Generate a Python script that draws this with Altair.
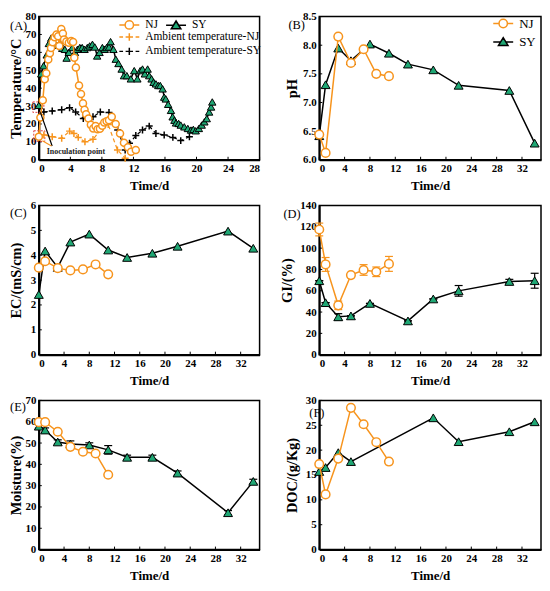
import altair as alt
import pandas as pd

ORANGE = "#F7941D"
GREEN = "#1FA774"
SERIF = "Liberation Serif"

# ---------------- data: panel A (temperature) ----------------
nj_temp_day = [0, 0.2, 0.5, 0.75, 0.95, 1.2, 1.4, 1.55, 1.75, 2.0, 2.25, 2.45, 2.6, 2.85, 3.05, 3.2,
               3.5, 3.8, 4.1, 4.35, 4.5, 4.7, 5.1, 5.35, 5.6, 5.8, 6.0, 6.3, 6.6, 6.9, 7.2, 7.45,
               7.75, 8.05, 8.3, 8.6, 8.9, 9.25, 9.75, 10.3, 10.8, 11.3, 11.7, 12.3]
nj_temp = [12.9, 23.6, 33.2, 45, 48.3, 56, 59.5, 62.5, 65.7, 68.5, 70, 69, 63.6, 73, 70.5, 67.2,
           66, 65.4, 66.3, 65.8, 57, 51.6, 41.5, 36.8, 31.5, 28, 25.4, 23, 19.5, 17.5, 18.8, 17,
           17.3, 19, 20.8, 21.5, 22.1, 24, 20, 14.7, 9.5, 7, 4.5, 5.5]
sy_temp_day = [0, 0.3, 0.6, 1.0, 1.27, 1.57, 1.9, 2.25, 2.67, 2.97, 3.3, 3.52, 3.8, 4.24, 4.58,
               4.9, 5.2, 5.5, 5.8, 6.15, 6.45, 6.8, 7.1, 7.4, 7.7, 8.06, 8.36, 8.6, 8.9, 9.1,
               9.46, 9.76, 10.1, 10.5, 10.8, 11.16, 11.67, 12.1, 12.5, 12.86, 13.15, 13.45, 13.8,
               14.0, 14.3, 14.55, 14.85, 15.15, 15.4, 15.7, 15.9, 16.1, 16.4, 16.76, 16.97, 17.2,
               17.4, 17.73, 18.0, 18.45, 18.9, 19.3, 19.6, 19.9, 20.3, 20.66, 21.0, 21.3, 21.6,
               21.85, 22.0]
sy_temp = [30.4, 48, 52.5, 58.6, 65, 68, 66, 64, 65.4, 62.3, 61.7, 56.8, 60, 62.7, 60,
           61.7, 62.7, 62.7, 61.7, 62.7, 63.6, 64.5, 63, 58, 60, 62.7, 61.7, 62.7, 63, 66,
           61.7, 56.2, 53.8, 50.7, 47, 47, 45.2, 49.8, 45.2, 49.8, 50.7, 48, 50.7,
           47, 45.2, 43.3, 42.4, 41.5, 41.5, 39.6, 35, 34, 31, 27.6, 24, 22.1,
           20.6, 20.3, 19.4, 18.4, 17.5, 16.6, 17, 16.2, 17.5, 19.4, 21.2, 23, 26.7,
           29.5, 32.3]
amb_nj_day = [0, 0.64, 1.7, 2.9, 3.9, 4.45, 5.0, 5.85, 6.87, 8.06, 8.8, 9.97, 10.95]
amb_nj = [13.8, 13.8, 12.9, 12, 16, 14.7, 12.5, 10.1, 11.4, 18, 19.7, 5.5, 0.9]
amb_sy_day = [0, 0.64, 1.7, 2.9, 3.9, 4.67, 5.64, 6.87, 7.8, 8.9, 10.0, 10.95, 11.5, 12.3,
              13.15, 14.0, 14.85, 15.9, 17.0, 18.0, 19.1]
amb_sy = [29.5, 26.7, 27.3, 28, 29.1, 26.7, 23, 24, 26.7, 26.4, 16.6, 5.5, 9.2, 13.5,
          16.6, 18.8, 14.7, 13.8, 12.5, 10.7, 12.9]

# annotation in panel A
inoc_label = ["Inoculation point"]
inoc_day = [1.0]
inoc_temp = [4.2]
box_day0 = [-0.76, -0.64]
box_day1 = [0.64, 0.76]
box_temp0 = [26.5, 10.3]
box_temp1 = [32.3, 16.2]
arrow_day0 = [1.69, 1.6]
arrow_temp0 = [7.7, 7.7]
arrow_day1 = [0.2, 0.45]
arrow_temp1 = [26.5, 10.6]
arrow_color = ["black", ORANGE]

# ---------------- data: panels B-F ----------------
nj_day = [0, 1, 3, 5, 7, 9, 11]
sy_day = [0, 1, 3, 5, 8, 11, 14, 18, 22, 30, 34]
sy_day_gi = [0, 1, 3, 5, 8, 14, 18, 22, 30, 34]
sy_day_doc = [0, 1, 3, 5, 18, 22, 30, 34]

nj_ph = [6.44, 6.12, 8.15, 7.69, 7.93, 7.50, 7.46]
sy_ph = [6.42, 7.31, 7.95, 7.73, 8.02, 7.86, 7.67, 7.57, 7.30, 7.21, 6.29]

nj_ec = [3.50, 3.76, 3.48, 3.39, 3.43, 3.63, 3.23]
sy_ec = [2.42, 4.17, 3.51, 4.53, 4.85, 4.21, 3.91, 4.08, 4.36, 4.97, 4.28]

nj_gi = [117.5, 84.7, 46.3, 74.7, 79.5, 77.8, 85.2]
nj_gi_err = [6, 6.5, 4, 2, 5, 4.5, 7]
sy_gi = [69.4, 48.8, 35.5, 36.4, 48.1, 31.7, 52.3, 59.9, 68.7, 69.4]
sy_gi_err = [0, 0, 3, 0, 0, 0, 0, 5, 2, 7]

nj_moist = [59.8, 59.8, 55.3, 48.2, 45.9, 45.1, 35.1]
sy_moist = [57.9, 56.1, 50.5, 49.5, 49.1, 46.8, 43.3, 43.3, 35.9, 17.3, 32.0]
sy_moist_err = [1, 1, 1, 1.5, 1, 2, 1, 1, 1, 1, 1]

nj_doc = [17.2, 11.1, 18.3, 28.5, 25.2, 21.6, 17.7]
sy_doc = [15.7, 16.5, 19.5, 17.7, 26.5, 21.7, 23.7, 25.7]

# ---------------- styling helpers ----------------
PLUS = "M-1,0L1,0M0,-1L0,1"
CAP = "M-1,0L1,0"
LEG_NJ = "M-1.67,0L-0.7,0M0.7,0L1.67,0M-0.7,0A0.7,0.7,0,1,1,0.7,0A0.7,0.7,0,1,1,-0.7,0Z"
LEG_SY = "M-1.67,0L-0.42,0M0.42,0L1.67,0M0,-0.72L0.8,0.58L-0.8,0.58Z"
LEG_AMB = "M-1.67,0L-1.05,0M-0.62,0L0.62,0M0,-0.62L0,0.62M1.05,0L1.67,0"

W_L, W_R = 222, 223
H1, H2, H3 = 144, 150, 150


def axis_x(values):
    return alt.Axis(values=values, title="Time/d", ticks=False, grid=False,
                    labelFont=SERIF, labelFontWeight="bold", labelFontSize=11,
                    labelColor="black", labelPadding=3,
                    titleFont=SERIF, titleFontWeight="bold", titleFontSize=13,
                    titleColor="black", titlePadding=6,
                    domainColor="black", domainWidth=2)


def axis_y(values, title, extent, tpad, fmt):
    kw = dict(values=values, title=title, ticks=False, grid=False,
              labelFont=SERIF, labelFontWeight="bold", labelFontSize=11,
              labelColor="black", labelPadding=3,
              titleFont=SERIF, titleFontWeight="bold", titleFontSize=14.5,
              titleColor="black", titlePadding=tpad,
              minExtent=extent, maxExtent=extent,
              domainColor="black", domainWidth=2)
    if fmt:
        kw["format"] = fmt
    return alt.Axis(**kw)


def legend_layer(names, shapes, strokes, fills, lx, ly, cols, fsize, rowpad):
    df = pd.DataFrame({"series": names})
    leg = alt.Legend(title=None, orient="none", legendX=lx, legendY=ly, columns=cols,
                     labelFont=SERIF, labelFontSize=fsize, labelColor="black",
                     symbolSize=144, symbolStrokeWidth=1.5, symbolOpacity=1,
                     rowPadding=rowpad, columnPadding=4, padding=0, labelOffset=9)

    def sc(rng):
        return alt.Scale(domain=names, range=rng)

    return alt.Chart(df).mark_point(opacity=0).encode(
        shape=alt.Shape("series:N", scale=sc(shapes), legend=leg),
        stroke=alt.Stroke("series:N", scale=sc(strokes), legend=leg),
        fill=alt.Fill("series:N", scale=sc(fills), legend=leg),
        x=alt.value(0), y=alt.value(0))


def panel(cfg):
    xdom, xvals = cfg["xdom"], cfg["xvals"]
    ydom, yvals = cfg["ydom"], cfg["yvals"]
    w, h = cfg["w"], cfg["h"]
    yax = axis_y(yvals, cfg["ytitle"], cfg["extent"], cfg["tpad"], cfg.get("fmt"))
    xsc = alt.Scale(domain=xdom, nice=False, zero=False)
    ysc = alt.Scale(domain=ydom, nice=False, zero=False)

    def X(f="d"):
        return alt.X(f"{f}:Q", scale=xsc, axis=axis_x(xvals))

    def Y(f="v"):
        return alt.Y(f"{f}:Q", scale=ysc, axis=yax)

    layers = []
    # inward ticks
    layers.append(alt.Chart(pd.DataFrame({"d": xvals})).mark_rule(color="black", strokeWidth=1)
                  .encode(x=X(), y=alt.value(h), y2=alt.value(h - 3)))
    layers.append(alt.Chart(pd.DataFrame({"v": yvals})).mark_rule(color="black", strokeWidth=1)
                  .encode(y=Y(), x=alt.value(0), x2=alt.value(3)))

    for extra in cfg.get("extra_back", []):
        layers.append(extra(X, Y))

    for s in cfg["series"]:
        kind = s["kind"]
        col = ORANGE if kind in ("nj", "amb_nj") else "black"
        df = pd.DataFrame({"d": s["days"], "v": s["vals"]})
        if s.get("errs") is not None:
            edf = pd.DataFrame({"d": s["days"],
                                "lo": [v - e for v, e in zip(s["vals"], s["errs"])],
                                "hi": [v + e for v, e in zip(s["vals"], s["errs"])]})
            layers.append(alt.Chart(edf).mark_rule(color=col, strokeWidth=1.2)
                          .encode(x=X(), y=Y("lo"), y2=alt.Y2("hi:Q")))
            for f in ("lo", "hi"):
                layers.append(alt.Chart(edf).mark_point(shape=CAP, filled=False, stroke=col,
                                                        strokeWidth=1.2, size=64, opacity=1)
                              .encode(x=X(), y=Y(f)))
        if kind.startswith("amb"):
            layers.append(alt.Chart(df).mark_line(color=col, strokeWidth=1.2, strokeDash=[4, 3])
                          .encode(x=X(), y=Y()))
            layers.append(alt.Chart(df).mark_point(shape=PLUS, filled=False, stroke=col,
                                                   strokeWidth=1.5, size=49, opacity=1)
                          .encode(x=X(), y=Y()))
        elif kind == "sy":
            layers.append(alt.Chart(df).mark_line(color="black", strokeWidth=1.5)
                          .encode(x=X(), y=Y()))
            layers.append(alt.Chart(df).mark_point(shape="triangle-up", filled=True, fill=GREEN,
                                                   stroke="black", strokeWidth=1,
                                                   size=s["size"], opacity=1)
                          .encode(x=X(), y=Y()))
        else:
            layers.append(alt.Chart(df).mark_line(color=ORANGE, strokeWidth=1.5)
                          .encode(x=X(), y=Y()))
            layers.append(alt.Chart(df).mark_point(shape="circle", filled=True, fill="white",
                                                   stroke=ORANGE, strokeWidth=1.5,
                                                   size=s["size"], opacity=1)
                          .encode(x=X(), y=Y()))

    for extra in cfg.get("extra_front", []):
        layers.append(extra(X, Y))

    # panel label
    layers.append(alt.Chart(pd.DataFrame({"lab": [cfg["label"]]}))
                  .mark_text(font=SERIF, fontSize=12.5, align="left", baseline="middle", color="black")
                  .encode(x=alt.value(cfg["lab_dx"]), y=alt.value(cfg["lab_dy"]), text="lab:N"))

    for lg in cfg.get("legends", []):
        layers.append(lg)

    ch = alt.layer(*layers).properties(width=w, height=h)
    if cfg.get("legends"):
        ch = ch.resolve_scale(shape="independent", stroke="independent", fill="independent")
    return ch


def annot_back(X, Y):
    bdf = pd.DataFrame({"d": box_day0, "d2": box_day1, "v": box_temp0, "v2": box_temp1})
    return alt.Chart(bdf).mark_rect(filled=False, stroke="#E03C3C", strokeWidth=1,
                                    strokeDash=[2, 1.5]).encode(
        x=X(), x2=alt.X2("d2:Q"), y=Y(), y2=alt.Y2("v2:Q"))


def annot_front(X, Y):
    adf = pd.DataFrame({"d": arrow_day0, "d2": arrow_day1, "v": arrow_temp0,
                        "v2": arrow_temp1, "c": arrow_color})
    return alt.Chart(adf).mark_rule(strokeWidth=1.2).encode(
        x=X(), x2=alt.X2("d2:Q"), y=Y(), y2=alt.Y2("v2:Q"),
        color=alt.Color("c:N", scale=None))


def annot_text(X, Y):
    tdf = pd.DataFrame({"d": inoc_day, "v": inoc_temp, "t": inoc_label})
    return alt.Chart(tdf).mark_text(font=SERIF, fontSize=8, fontWeight="bold", align="left",
                                    baseline="middle", color="#222222").encode(
        x=X(), y=Y(), text="t:N")


xv_a = list(range(0, 29, 4))
xv = list(range(0, 33, 4))

legA1 = legend_layer(["NJ", "SY"], [LEG_NJ, LEG_SY], [ORANGE, "black"], ["white", GREEN],
                     84, 1, 2, 11.5, 0)
legA2 = legend_layer(["Ambient temperature-NJ", "Ambient temperature-SY"],
                     [LEG_AMB, LEG_AMB], [ORANGE, "black"], ["transparent", "transparent"],
                     84, 13.5, 1, 11.5, 0.5)
legB = legend_layer(["NJ", "SY"], [LEG_NJ, LEG_SY], [ORANGE, "black"], ["white", GREEN],
                    178, 0, 1, 13, 2.5)

cfgA = dict(xdom=[0, 28], xvals=xv_a, ydom=[0, 80], yvals=list(range(0, 81, 10)),
            ytitle="Temperature/°C", w=W_L, h=H1, extent=14, tpad=1, label="(A)",
            lab_dx=-29, lab_dy=9,
            series=[dict(kind="amb_sy", days=amb_sy_day, vals=amb_sy),
                    dict(kind="amb_nj", days=amb_nj_day, vals=amb_nj),
                    dict(kind="sy", days=sy_temp_day, vals=sy_temp, size=55),
                    dict(kind="nj", days=nj_temp_day, vals=nj_temp, size=50)],
            extra_back=[annot_back], extra_front=[annot_front, annot_text],
            legends=[legA1, legA2])
cfgB = dict(xdom=[0, 35], xvals=xv, ydom=[6.0, 8.5], yvals=[6.0, 6.5, 7.0, 7.5, 8.0, 8.5],
            ytitle="pH", w=W_R, h=H1, extent=17, tpad=3, fmt=".1f", label="(B)",
            lab_dx=-31, lab_dy=8,
            series=[dict(kind="sy", days=sy_day, vals=sy_ph, size=80),
                    dict(kind="nj", days=nj_day, vals=nj_ph, size=75)],
            legends=[legB])
cfgC = dict(xdom=[0, 35], xvals=xv, ydom=[0, 6], yvals=list(range(0, 7)),
            ytitle="EC/(mS/cm)", w=W_L, h=H2, extent=14, tpad=1, label="(C)",
            lab_dx=-29, lab_dy=8,
            series=[dict(kind="sy", days=sy_day, vals=sy_ec, size=80),
                    dict(kind="nj", days=nj_day, vals=nj_ec, size=75)])
cfgD = dict(xdom=[0, 35], xvals=xv, ydom=[0, 140], yvals=list(range(0, 141, 20)),
            ytitle="GI/(%)", w=W_R, h=H2, extent=20, tpad=5, label="(D)",
            lab_dx=-36, lab_dy=9,
            series=[dict(kind="sy", days=sy_day_gi, vals=sy_gi, errs=sy_gi_err, size=80),
                    dict(kind="nj", days=nj_day, vals=nj_gi, errs=nj_gi_err, size=75)])
cfgE = dict(xdom=[0, 35], xvals=xv, ydom=[0, 70], yvals=list(range(0, 71, 10)),
            ytitle="Moisture(%)", w=W_L, h=H3, extent=14, tpad=1, label="(E)",
            lab_dx=-29, lab_dy=7,
            series=[dict(kind="sy", days=sy_day, vals=sy_moist, errs=sy_moist_err, size=80),
                    dict(kind="nj", days=nj_day, vals=nj_moist, size=75)])
cfgF = dict(xdom=[0, 35], xvals=xv, ydom=[0, 30], yvals=list(range(0, 31, 5)),
            ytitle="DOC/(g/Kg)", w=W_R, h=H3, extent=17, tpad=3, label="(F)",
            lab_dx=-10, lab_dy=13,
            series=[dict(kind="sy", days=sy_day_doc, vals=sy_doc, size=80),
                    dict(kind="nj", days=nj_day, vals=nj_doc, size=75)])

panels = [panel(c) for c in (cfgA, cfgB, cfgC, cfgD, cfgE, cfgF)]

chart = alt.concat(*panels, columns=2, spacing={"row": 46, "column": 60}, bounds="flush").properties(
    padding=0, background="white"
).configure_view(stroke="black", strokeWidth=1.5)

chart.save("out.html", embed_options={"renderer": "svg", "actions": False})
